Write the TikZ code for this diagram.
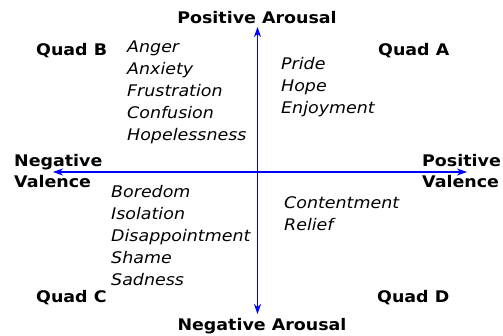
\documentclass[tikz,border=0pt]{standalone}
\usepackage{fontspec}
\setmainfont{DejaVu Sans}[FakeStretch=1.09]
\usetikzlibrary{arrows.meta}
\begin{document}
\begin{tikzpicture}[x=1pt,y=-1pt,
  lbl/.style={inner sep=0pt,font=\fontsize{16}{20}\selectfont\bfseries},
  item/.style={inner sep=0pt,anchor=base west,font=\fontsize{16}{20}\selectfont\itshape},
  axis/.style={blue,line width=1.1pt,{Stealth[length=10pt,width=7pt,inset=3pt]}-{Stealth[length=10pt,width=7pt,inset=3pt]}}]
\useasboundingbox (0,0) rectangle (503,335);
% axes
\coordinate (L) at (53,172);
\coordinate (R) at (467,172);
\coordinate (T) at (257.5,27);
\coordinate (B) at (257.5,314);
\draw[axis] (L) -- (R);
\draw[axis] (B) -- (T);
% axis labels
\node[lbl,anchor=base] (pa) at (257,23) {Positive Arousal};
\node[lbl,anchor=base] (na) at (262,330) {Negative Arousal};
\node[lbl,anchor=base west] (nv1) at (14,166) {Negative};
\node[lbl,anchor=base west] (nv2) at (14,187) {Valence};
\node[lbl,anchor=base west] (pv1) at (422,166) {Positive};
\node[lbl,anchor=base west] (pv2) at (422,187) {Valence};
% quadrant labels
\node[lbl,anchor=base west] (qb) at (36,55) {Quad B};
\node[lbl,anchor=base west] (qa) at (378,55) {Quad A};
\node[lbl,anchor=base west] (qc) at (36,302) {Quad C};
\node[lbl,anchor=base west] (qd) at (377,302) {Quad D};
% quadrant B items
\node[item] (b1) at (127,52) {Anger};
\node[item] (b2) at (127,74) {Anxiety};
\node[item] (b3) at (127,96) {Frustration};
\node[item] (b4) at (127,118) {Confusion};
\node[item] (b5) at (127,140) {Hopelessness};
% quadrant A items
\node[item] (a1) at (281,69) {Pride};
\node[item] (a2) at (281,91) {Hope};
\node[item] (a3) at (281,113) {Enjoyment};
% quadrant C items
\node[item] (c1) at (111,197) {Boredom};
\node[item] (c2) at (111,219) {Isolation};
\node[item] (c3) at (111,241) {Disappointment};
\node[item] (c4) at (111,263) {Shame};
\node[item] (c5) at (111,285) {Sadness};
% quadrant D items
\node[item] (d1) at (284,208) {Contentment};
\node[item] (d2) at (284,230) {Relief};
\end{tikzpicture}
\end{document}
